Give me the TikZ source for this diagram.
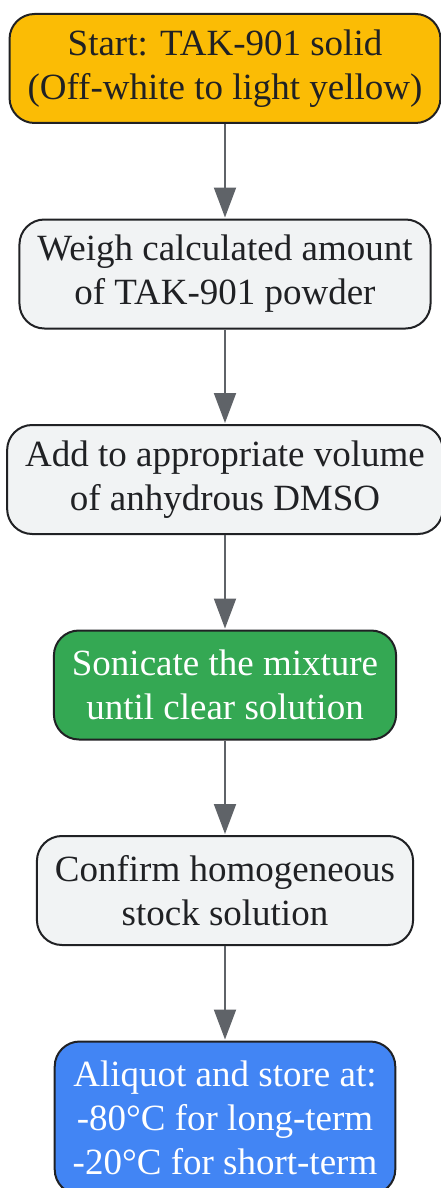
\documentclass[tikz,border=0pt]{standalone}
\usepackage{fontspec}
\setmainfont{Liberation Serif}
\usepackage{xcolor}
\usetikzlibrary{arrows.meta,positioning}

\definecolor{startorange}{HTML}{FBBC05}
\definecolor{stepgray}{HTML}{F1F3F4}
\definecolor{okgreen}{HTML}{34A853}
\definecolor{endblue}{HTML}{4285F4}
\definecolor{edgedark}{HTML}{202124}
\definecolor{arrowgray}{HTML}{5F6368}

\begin{document}
\begin{tikzpicture}[
    x=1pt, y=1pt,
    node distance=94.5pt,
    snode/.style={rectangle, rounded corners=25pt, draw=edgedark, line width=2pt,
        align=center, inner xsep=18pt, minimum height=109pt, text=edgedark,
        font=\fontsize{37}{44}\selectfont},
    arr/.style={-{Triangle[length=30pt, width=22pt]}, line width=2pt, arrowgray, shorten >=1pt}
]
    \clip (0,0) rectangle (441,-1188);

    % Start
    \node[snode, fill=startorange] (start) at (225,-68.5) {Start: TAK-901 solid\\(Off-white to light yellow)};

    % Preparation steps
    \node[snode, fill=stepgray, below=of start] (weigh) {Weigh calculated amount\\of TAK-901 powder};
    \node[snode, fill=stepgray, below=of weigh] (dmso) {Add to appropriate volume\\of anhydrous DMSO};
    \node[snode, fill=okgreen, text=white, below=of dmso] (sonic) {Sonicate the mixture\\until clear solution};
    \node[snode, fill=stepgray, below=of sonic] (confirm) {Confirm homogeneous\\stock solution};

    % Storage
    \node[snode, fill=endblue, text=white, minimum height=153pt, below=of confirm] (store) {Aliquot and store at:\\-80°C for long-term\\-20°C for short-term};

    \draw[arr] (start) -- (weigh);
    \draw[arr] (weigh) -- (dmso);
    \draw[arr] (dmso) -- (sonic);
    \draw[arr] (sonic) -- (confirm);
    \draw[arr] (confirm) -- (store);
\end{tikzpicture}
\end{document}
